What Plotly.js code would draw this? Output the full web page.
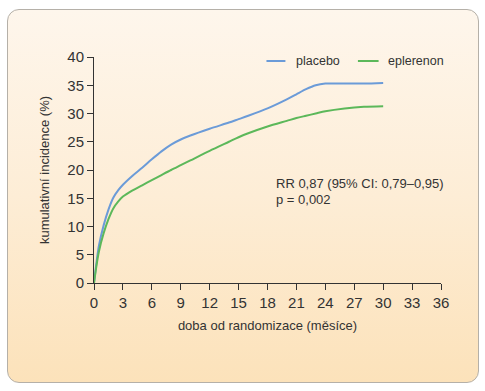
<!DOCTYPE html>
<html>
<head>
<meta charset="utf-8">
<script src="https://cdn.plot.ly/plotly-3.0.1.min.js"></script>
<style>
html,body{margin:0;padding:0;background:#fff;width:485px;height:391px;overflow:hidden;}
#panel{position:absolute;left:7px;top:9px;width:470px;height:372px;border:1px solid #b5b0a8;border-radius:12px;
background:linear-gradient(to bottom,#fef6ec 0%,#fdedd6 50%,#fce2ba 100%);}
#chart{position:absolute;left:0;top:0;width:485px;height:391px;}
</style>
</head>
<body>
<div id="panel"></div>
<div id="chart"></div>
<script>
var months = [0,0.25,0.5,1,1.5,2,2.5,3,4,5,6,7,8,9,10,12,14,15,16,18,20,21,22,23,24,26,28,30];
var placebo = [0,3.5,6.5,10.2,13.0,15.1,16.4,17.4,19.0,20.4,21.9,23.3,24.5,25.4,26.1,27.3,28.4,29.0,29.6,30.9,32.5,33.4,34.3,35.0,35.3,35.3,35.3,35.4];
var eplerenon = [0,3.0,5.5,8.8,11.3,13.2,14.4,15.3,16.4,17.3,18.2,19.1,20.0,20.85,21.7,23.4,25.0,25.8,26.5,27.7,28.7,29.2,29.6,30.0,30.4,30.9,31.2,31.3];
var xTicks = [0,3,6,9,12,15,18,21,24,27,30,33,36];
var yTicks = [0,5,10,15,20,25,30,35,40];
var seriesNames = ['placebo','eplerenon'];
var colors = ['#6b9bd8','#5cb85a'];
var statsText = ['RR 0,87 (95% CI: 0,79–0,95)','p = 0,002'];

var font = 'Liberation Sans, Arial, sans-serif';
var txt = '#333333';

var traces = [
  {x: months, y: placebo, mode:'lines', name: seriesNames[0], line:{color:colors[0], width:2, shape:'spline', smoothing:0.8}, showlegend:false, hoverinfo:'skip'},
  {x: months, y: eplerenon, mode:'lines', name: seriesNames[1], line:{color:colors[1], width:2, shape:'spline', smoothing:0.8}, showlegend:false, hoverinfo:'skip'}
];

var axisCommon = {showgrid:false, zeroline:false, showline:true, linecolor:txt, linewidth:1,
  ticks:'outside', ticklen:6, tickcolor:txt, tickwidth:1, tickfont:{family:font, size:15, color:txt}, fixedrange:true};

var layout = {
  width:485, height:391,
  margin:{l:94, r:43.5, t:57, b:107.5, pad:0},
  paper_bgcolor:'rgba(0,0,0,0)', plot_bgcolor:'rgba(0,0,0,0)',
  font:{family:font, color:txt},
  xaxis: Object.assign({}, axisCommon, {range:[0,36], tickmode:'array', tickvals:xTicks, ticktext:xTicks.map(String),
    title:{text:'doba od randomizace (měsíce)', font:{family:font, size:13, color:txt}, standoff:10}}),
  yaxis: Object.assign({}, axisCommon, {range:[0,40], tickmode:'array', tickvals:yTicks, ticktext:yTicks.map(String),
    title:{text:'kumulativní incidence (%)', font:{family:font, size:13, color:txt}, standoff:14}}),
  shapes:[
    {type:'line', xref:'paper', yref:'paper', x0:(266.7-94)/347.5, x1:(285.7-94)/347.5, y0:(283.5-61)/226.5, y1:(283.5-61)/226.5, line:{color:colors[0], width:2}},
    {type:'line', xref:'paper', yref:'paper', x0:(358.3-94)/347.5, x1:(379-94)/347.5, y0:(283.5-61)/226.5, y1:(283.5-61)/226.5, line:{color:colors[1], width:2}}
  ],
  annotations:[
    {xref:'paper', yref:'paper', x:(294-94)/347.5, y:(283.5-61)/226.5, xanchor:'left', yanchor:'middle', showarrow:false, text:seriesNames[0], font:{family:font, size:12.5, color:txt}},
    {xref:'paper', yref:'paper', x:(386.5-94)/347.5, y:(283.5-61)/226.5, xanchor:'left', yanchor:'middle', showarrow:false, text:seriesNames[1], font:{family:font, size:12.5, color:txt}},
    {xref:'paper', yref:'paper', x:(274.5-94)/347.5, y:(283.5-184)/226.5, xanchor:'left', yanchor:'middle', showarrow:false, text:statsText[0], font:{family:font, size:13, color:txt}},
    {xref:'paper', yref:'paper', x:(274.5-94)/347.5, y:(283.5-199.5)/226.5, xanchor:'left', yanchor:'middle', showarrow:false, text:statsText[1], font:{family:font, size:13, color:txt}}
  ]
};

Plotly.newPlot('chart', traces, layout, {displayModeBar:false, staticPlot:true});
</script>
</body>
</html>
